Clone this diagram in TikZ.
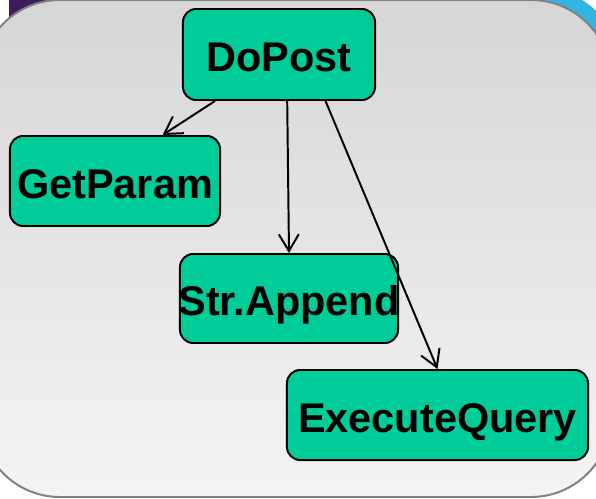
\documentclass[tikz,border=0pt]{standalone}
\usepackage{fontspec}
\setmainfont{Liberation Sans}
\usetikzlibrary{arrows.meta}
\definecolor{verde}{RGB}{0,204,153}
\definecolor{viola}{RGB}{60,28,94}
\definecolor{azzurro}{RGB}{52,180,224}
\definecolor{grigiobordo}{RGB}{128,128,128}
\definecolor{grigiosu}{RGB}{214,214,214}
\definecolor{grigiogiu}{RGB}{244,244,244}
\tikzset{
  blocco/.style={draw=black, line width=1.4pt, fill=verde, rounded corners=0.33cm,
    inner sep=0pt, text height=24.2pt, text depth=0pt,
    font=\fontsize{29.5}{35}\selectfont\bfseries},
  freccia/.style={-{Straight Barb[length=0.42cm,width=0.5cm]}, line width=1.4pt}
}
\begin{document}
\begin{tikzpicture}[x=0.025cm, y=-0.025cm]
\useasboundingbox (0,0) rectangle (596,498);
% sfondo
\fill[viola] (9,-5) rectangle (200,60);
\fill[azzurro, rounded corners=2cm] (400,-12) rectangle (620,200);
\draw[grigiobordo, line width=1.4pt, top color=grigiosu, bottom color=grigiogiu,
  rounded corners=2cm] (-20,0) rectangle (611,497);
% blocchi
\node[blocco, minimum width=4.8cm, minimum height=2.275cm] (dopost) at (279,54.5) {DoPost};
\node[blocco, minimum width=5.25cm, minimum height=2.25cm] (getparam) at (115,181) {GetParam};
\node[blocco, minimum width=5.45cm, minimum height=2.225cm] (append) at (289,298.5) {\makebox[0pt]{Str.Append}};
\node[blocco, minimum width=7.525cm, minimum height=2.25cm] (query) at (437.5,415) {ExecuteQuery};
% chiamate
\draw[freccia] (dopost.216) -- (getparam.44);
\draw[freccia] (dopost.280) -- (append.north);
\draw[freccia] (dopost.315) -- (query.north);
\end{tikzpicture}
\end{document}
